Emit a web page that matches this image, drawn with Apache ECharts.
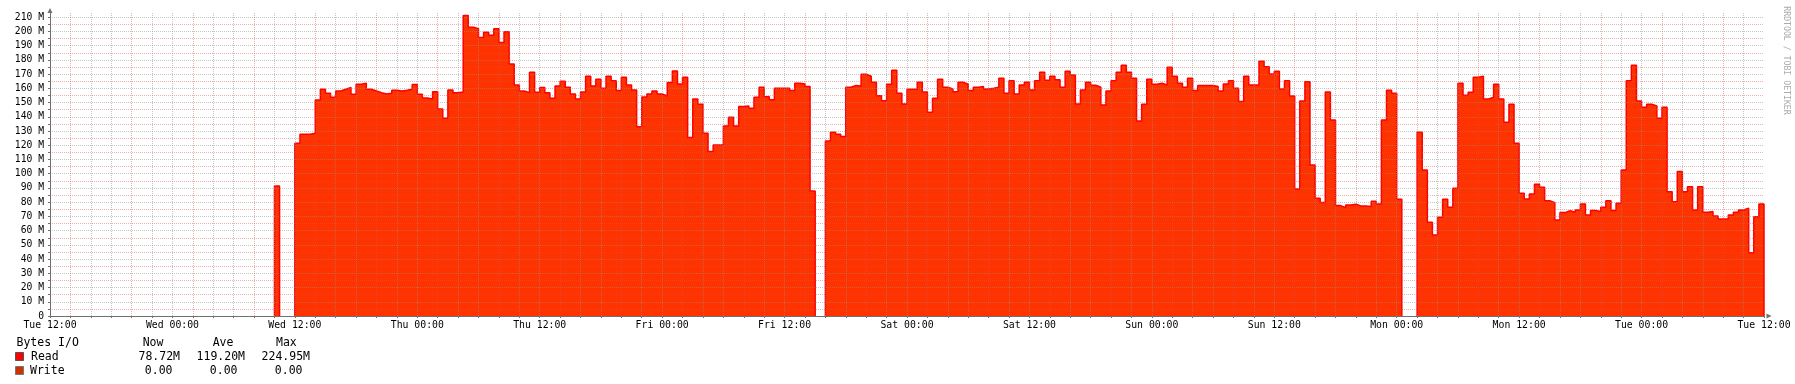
<!DOCTYPE html>
<html>
<head>
<meta charset="utf-8">
<script src="https://cdn.jsdelivr.net/npm/echarts@6/dist/echarts.min.js"></script>
<style>
html,body{margin:0;padding:0;background:#ffffff;}
#chart{width:1795px;height:384px;}
</style>
</head>
<body>
<div id="chart"></div>
<script>
// ---- data (MB/s, one value per 30 minutes, starting Tue 12:00) ----
const stepHours = 0.5;
const readValues = [
  null,null,null,null,null,null,null,null,null,null,null,null,
  null,null,null,null,null,null,null,null,null,null,null,null,
  null,null,null,null,null,null,null,null,null,null,null,null,
  null,null,null,null,null,null,null,null,91.4,null,null,null,
  121.4,127.7,127.7,128.5,151.9,159.4,156.6,153.8,158.2,159.4,160.6,155.9,
  162.9,163.6,159.4,158.2,157.0,156.1,156.6,158.7,158.2,158.7,159.4,162.7,
  155.9,153.3,152.6,157.7,145.6,139.0,158.9,157.0,157.5,211.2,203.0,202.0,
  195.7,199.5,197.4,202.0,192.2,199.9,177.2,162.4,158.2,157.0,171.3,157.3,
  160.6,157.0,153.1,161.7,165.0,160.8,156.1,152.6,157.5,168.5,161.7,166.4,
  160.1,168.5,165.3,158.5,167.8,162.4,158.9,133.1,154.0,156.1,158.2,156.1,
  154.7,164.1,172.3,163.1,167.8,125.4,152.6,148.8,128.5,115.6,120.2,120.2,
  133.6,139.7,133.6,147.2,147.7,146.0,153.8,160.8,154.2,152.1,160.1,160.1,
  160.1,158.5,163.6,163.1,161.3,87.9,null,null,123.1,129.2,127.7,126.1,
  160.8,162.0,161.7,169.9,168.5,164.3,154.9,151.4,162.9,172.8,156.6,149.1,
  159.4,159.4,164.3,157.5,143.2,153.1,166.4,160.8,159.6,157.7,164.3,162.9,
  158.5,160.8,161.3,159.6,160.1,160.8,167.1,156.6,165.3,156.1,162.4,164.3,
  158.9,165.3,171.3,165.7,168.5,166.0,160.8,172.1,169.5,149.1,158.9,164.3,
  162.2,160.8,148.4,158.2,165.3,171.3,176.3,171.3,167.1,137.1,148.8,166.4,
  162.9,163.6,162.4,174.9,168.5,163.6,160.8,167.1,158.5,162.0,162.0,162.0,
  161.3,158.2,163.1,165.3,160.1,150.7,168.5,162.4,162.4,179.1,175.3,170.2,
  172.1,159.6,165.3,154.7,89.3,151.2,164.6,106.2,82.7,79.7,157.5,137.8,
  77.6,76.2,78.1,78.5,77.4,77.4,76.9,80.6,78.8,137.8,158.7,156.6,
  82.0,null,null,null,129.2,102.7,65.9,57.0,69.4,82.0,76.4,89.8,
  163.6,155.2,157.3,167.8,168.5,152.6,153.8,162.9,152.6,136.2,148.8,121.4,
  86.3,82.3,85.8,92.6,90.5,81.1,79.7,67.5,72.7,74.1,72.9,74.5,
  78.8,71.0,74.1,73.4,76.4,81.1,74.1,79.2,102.7,165.3,176.3,151.2,
  146.7,148.8,147.7,139.0,146.7,87.4,80.4,101.5,87.4,90.9,74.5,90.9,
  72.9,73.4,70.3,68.2,68.2,71.0,72.9,74.5,75.7,44.5,69.8,78.8
];
const xTickLabels = ['Tue 12:00','Wed 00:00','Wed 12:00','Thu 00:00','Thu 12:00','Fri 00:00','Fri 12:00',
  'Sat 00:00','Sat 12:00','Sun 00:00','Sun 12:00','Mon 00:00','Mon 12:00','Tue 00:00','Tue 12:00'];
const legendTitle = 'Bytes I/O';
const statHeaders = ['Now','Ave','Max'];
const legendNames = ['Read','Write'];
const readStats = ['78.72M','119.20M','224.95M'];
const writeStats = ['0.00','0.00','0.00'];
const watermark = 'RRDTOOL / TOBI OETIKER';

// ---- build step outline points from the values ----
const pts = [];
for (let i = 0; i < readValues.length; i++) {
  const v = readValues[i];
  const t = i * stepHours;
  if (v == null) { pts.push([t, null]); continue; }
  const prev = i > 0 ? readValues[i - 1] : null;
  const next = i < readValues.length - 1 ? readValues[i + 1] : null;
  if (prev == null) pts.push([t, 0]);
  pts.push([t, v]);
  pts.push([t + stepHours, v]);
  if (next == null) pts.push([t + stepHours, 0]);
}

const MONO = 'DejaVu Sans Mono';
const MAJOR = 'rgba(222,79,79,0.45)';
const MINOR = 'rgba(143,143,143,0.5)';
const AXIS = '#707070';
const LF = '11.5px "' + MONO + '"';

const chart = echarts.init(document.getElementById('chart'), null, {renderer: 'canvas'});

const colX = [180, 245, 310];
const writeColX = [172.5, 237.5, 302.5];
const headX = [142.7, 212.7, 276];
const rowY = [342.7, 357.5, 370.7];
const graphics = [];
const txt = (s, x, y, align) => ({type:'text', x:x, y:y, style:{text:s, font:LF, fill:'#000', textAlign:align, textVerticalAlign:'middle'}});
graphics.push(txt(legendTitle, 16.5, rowY[0], 'left'));
statHeaders.forEach((h, k) => graphics.push(txt(h, headX[k], rowY[0], 'left')));
graphics.push({type:'rect', x:15.5, y:352.5, shape:{x:0,y:0,width:8,height:8}, style:{fill:'#FF0000', stroke:'#555', lineWidth:1}});
graphics.push({type:'rect', x:15.5, y:366.5, shape:{x:0,y:0,width:8,height:8}, style:{fill:'#CC3300', stroke:'#777', lineWidth:1}});
graphics.push(txt(legendNames[0], 31, rowY[1], 'left'));
graphics.push(txt(legendNames[1], 30, rowY[2], 'left'));
readStats.forEach((s, k) => graphics.push(txt(s, colX[k], rowY[1], 'right')));
writeStats.forEach((s, k) => graphics.push(txt(s, writeColX[k], rowY[2], 'right')));
graphics.push({type:'text', x:1786.5, y:60.5, rotation:-Math.PI/2, style:{text:watermark, font:'8.2px "'+MONO+'"', fill:'#aaaaaa', textAlign:'center', textVerticalAlign:'middle'}});

const option = {
  backgroundColor: '#ffffff',
  animation: false,
  grid: {left: 50, right: 31, top: 13, bottom: 68, containLabel: false, outerBoundsMode: 'none'},
  xAxis: {
    type: 'value', min: 0, max: 168, interval: 2, z: 5,
    axisLine: {show: true, onZero: false, lineStyle: {color: AXIS, width: 1}, symbol: ['none', 'triangle'], symbolSize: [5, 5], symbolOffset: [0, 5]},
    axisTick: {show: true, length: 2, lineStyle: {color: AXIS}},
    axisLabel: {
      margin: 4, color: '#000', fontFamily: MONO, fontSize: 9.8, showMinLabel: true, showMaxLabel: true,
      formatter: v => (v % 12 === 0 ? xTickLabels[v / 12] : '')
    },
    splitLine: {show: true, showMinLine: false, showMaxLine: false, lineStyle: {color: [MAJOR, MINOR, MINOR], width: 1, type: [1, 1]}}
  },
  yAxis: {
    type: 'value', min: 0, max: 213, interval: 5, z: 5,
    axisLine: {show: true, lineStyle: {color: AXIS, width: 1}, symbol: ['none', 'triangle'], symbolSize: [5, 5], symbolOffset: [0, 2.5]},
    axisTick: {show: true, length: 2, lineStyle: {color: AXIS}},
    axisLabel: {
      margin: 6, color: '#000', fontFamily: MONO, fontSize: 9.7, showMaxLabel: false,
      formatter: v => (v === 0 ? '0' : (v % 10 === 0 && v <= 210 ? v + ' M' : ''))
    },
    splitLine: {show: true, showMinLine: false, showMaxLine: false, lineStyle: {color: [MAJOR, MINOR], width: 1, type: [1, 1]}}
  },
  series: [{
    name: legendNames[0],
    type: 'line',
    z: 1,
    data: pts,
    showSymbol: false,
    connectNulls: false,
    lineStyle: {color: '#FF0000', width: 1.5},
    itemStyle: {color: '#FF0000'},
    areaStyle: {color: '#FF3300', opacity: 1},
    silent: true
  }],
  graphic: graphics
};
chart.setOption(option);
</script>
</body>
</html>
